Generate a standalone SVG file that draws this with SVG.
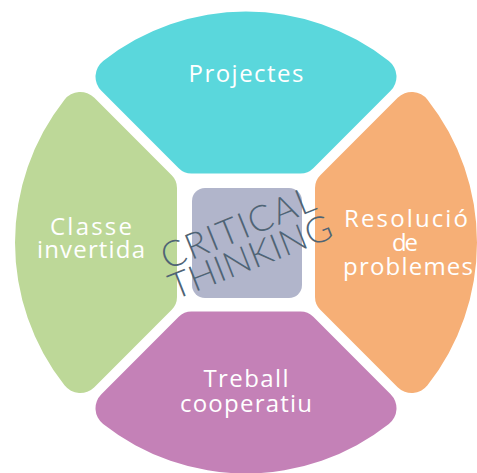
<svg xmlns="http://www.w3.org/2000/svg" width="477" height="473" viewBox="0 0 477 473">
  <style>
    .lbl { font-family: "Open Sans", Lato, "Liberation Sans", sans-serif; font-size: 24px; fill: #ffffff; text-anchor: middle; font-variant-ligatures: none; }
    .ct { font-family: Lato, "Open Sans", "Liberation Sans", sans-serif; font-size: 36px; font-weight: 300; fill: #4f6475; }
  </style>
  <defs>
    <path id="petal" d="M -54.54,-69 L 54.54,-69 A 18 18 0 0 0 67.27,-74.27 L 144.64,-151.66 A 20 20 0 0 0 142.87,-181.51 A 231 231 0 0 0 -142.87,-181.51 A 20 20 0 0 0 -144.64,-151.66 L -67.27,-74.27 A 18 18 0 0 0 -54.54,-69 Z"/>
  </defs>
  <rect width="477" height="473" fill="#ffffff"/>
  <g id="projectes">
    <use href="#petal" transform="translate(246,242.5)" fill="#5ad7dc"/>
    <text class="lbl" x="246" y="82" textLength="115" lengthAdjust="spacing">Projectes</text>
  </g>
  <g id="resolucio">
    <use href="#petal" transform="translate(246,242.5) rotate(90)" fill="#f6af76"/>
    <text class="lbl" x="406" y="227" textLength="124" lengthAdjust="spacing">Resolució</text>
    <text class="lbl" x="405" y="251" textLength="26" lengthAdjust="spacing">de</text>
    <text class="lbl" x="408" y="275" textLength="130" lengthAdjust="spacing">problemes</text>
  </g>
  <g id="treball">
    <use href="#petal" transform="translate(246,242.5) rotate(180)" fill="#c481b7"/>
    <text class="lbl" x="246" y="387" textLength="85" lengthAdjust="spacing">Treball</text>
    <text class="lbl" x="246" y="412" textLength="132" lengthAdjust="spacing">cooperatiu</text>
  </g>
  <g id="classe">
    <use href="#petal" transform="translate(246,242.5) rotate(270)" fill="#bdd898"/>
    <text class="lbl" x="91" y="235" textLength="82" lengthAdjust="spacing">Classe</text>
    <text class="lbl" x="91" y="258" textLength="108" lengthAdjust="spacing">invertida</text>
  </g>
  <g id="critical-thinking">
    <rect x="192" y="188" width="110" height="110" rx="13" fill="#b1b5cb"/>
    <text class="ct" transform="translate(167,270) rotate(-22)" textLength="163" lengthAdjust="spacing">CRITICAL</text>
    <text class="ct" transform="translate(175,300) rotate(-21.5)" textLength="172" lengthAdjust="spacing">THINKING</text>
  </g>
  <g id="connectors"></g>
</svg>
